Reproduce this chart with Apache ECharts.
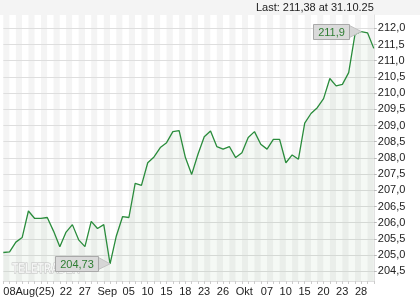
<!DOCTYPE html>
<html><head><meta charset="utf-8">
<script src="https://cdn.jsdelivr.net/npm/echarts@6/dist/echarts.min.js"></script>
<style>html,body{margin:0;padding:0;background:#fff}#c{width:420px;height:300px}</style>
</head><body><div id="c"></div>
<script>
const dates = ['08.08.25','11.08.25','12.08.25','13.08.25','14.08.25','18.08.25','19.08.25','20.08.25','21.08.25','22.08.25',
 '25.08.25','26.08.25','27.08.25','28.08.25','29.08.25','01.09.25','02.09.25','03.09.25','04.09.25','05.09.25',
 '08.09.25','09.09.25','10.09.25','11.09.25','12.09.25','15.09.25','16.09.25','17.09.25','18.09.25','19.09.25',
 '22.09.25','23.09.25','24.09.25','25.09.25','26.09.25','29.09.25','30.09.25','01.10.25','02.10.25','03.10.25',
 '06.10.25','07.10.25','08.10.25','09.10.25','10.10.25','13.10.25','14.10.25','15.10.25','16.10.25','17.10.25',
 '20.10.25','21.10.25','22.10.25','23.10.25','24.10.25','27.10.25','28.10.25','29.10.25','30.10.25','31.10.25'];
const values = [205.08,205.10,205.40,205.54,206.36,206.13,206.13,206.16,205.74,205.26,
 205.71,205.94,205.47,205.26,206.04,205.82,205.94,204.73,205.59,206.19,
 206.16,207.21,207.15,207.85,208.03,208.32,208.47,208.81,208.84,208.01,
 207.49,208.11,208.65,208.83,208.35,208.27,208.35,208.01,208.16,208.63,
 208.81,208.42,208.27,208.57,208.57,207.85,208.09,207.96,209.07,209.37,
 209.55,209.83,210.45,210.22,210.27,210.63,211.81,211.90,211.86,211.38];
const xLabelDates = ['08.08.25','22.08.25','27.08.25','01.09.25','05.09.25','10.09.25','15.09.25','18.09.25','23.09.25',
 '26.09.25','01.10.25','07.10.25','10.10.25','15.10.25','20.10.25','23.10.25','28.10.25'];
const xLabelText = ['08Aug(25)','22','27','Sep','05','10','15','18','23','26','Okt','07','10','15','20','23','28'];
const yTicks = [204.5,205.0,205.5,206.0,206.5,207.0,207.5,208.0,208.5,209.0,209.5,210.0,210.5,211.0,211.5,212.0];

const fmt = (v, d) => v.toFixed(d).replace('.', ',');
const labelMap = {};
xLabelDates.forEach((d, i) => labelMap[d] = xLabelText[i]);

const chart = echarts.init(document.getElementById('c'), null, {renderer: 'canvas'});
const FONT = 'Arial, "Liberation Sans", sans-serif';

chart.setOption({
  animation: false,
  backgroundColor: '#ffffff',
  grid: {left: 3.3, right: 46.2, top: 15, bottom: 19, containLabel: false},
  xAxis: {
    type: 'category', data: dates, boundaryGap: false,
    axisLine: {show: true, lineStyle: {color: '#dddddd'}},
    axisTick: {show: true, interval: 0, length: 3, lineStyle: {color: '#cccccc'}},
    axisLabel: {
      interval: (idx, val) => labelMap[val] !== undefined,
      formatter: (val) => labelMap[val] || '',
      align: 'left', margin: 5, color: '#222', fontSize: 11, fontFamily: FONT, hideOverlap: false
    },
    splitLine: {show: false},
    splitArea: {show: true, interval: 0, areaStyle: {color: ['#f4f4f4', '#ffffff']}}
  },
  yAxis: {
    type: 'value', position: 'right', min: 204.2, max: 212.41, scale: true,
    axisLine: {show: true, lineStyle: {color: '#e2e2e2'}},
    axisTick: {show: true, length: 3, customValues: yTicks, lineStyle: {color: '#bbbbbb'}},
    axisLabel: {customValues: yTicks, formatter: v => fmt(v, 1), margin: 4, color: '#222', fontSize: 11, fontFamily: FONT},
    splitLine: {show: false}
  },
  series: [{
    type: 'line', data: [], z: 1, silent: true,
    markLine: {
      z: 1, silent: true, symbol: ['none', 'none'], animation: false,
      label: {show: false},
      lineStyle: {color: '#dedede', type: 'solid', width: 1},
      emphasis: {disabled: true},
      data: yTicks.map(v => ({yAxis: v}))
    }
  }, {
    type: 'line', data: values, symbol: 'none', smooth: false,
    lineStyle: {color: '#2a8c3c', width: 1.3},
    areaStyle: {color: 'rgba(60,130,60,0.07)', origin: 'start'},
    z: 3
  }]
});

function textWidth(t, font) {
  const c = document.createElement('canvas').getContext('2d');
  c.font = font; return c.measureText(t).width;
}
function callout(idx, text) {
  const p = chart.convertToPixel({seriesIndex: 1}, [idx, values[idx]]);
  const font = '11px ' + FONT;
  const w = Math.round(textWidth(text, font) + 9), h = 15;
  const right = Math.round(p[0] - 12) + 0.5, left = right - w, top = Math.round(p[1] - h / 2) + 0.5;
  return [
    {type: 'polygon', z: 10, shape: {points: [[right, top + 1], [p[0], p[1]], [right, top + h - 2]]}, style: {fill: '#d6d6d6', stroke: '#c2c2c2', lineWidth: 1}},
    {type: 'rect', z: 11, shape: {x: left, y: top, width: w, height: h}, style: {fill: '#dadada', stroke: '#a9a9a9', lineWidth: 1}},
    {type: 'text', z: 12, x: left + w / 2, y: top + h / 2 + 0.5, style: {text: text, fill: '#2e7d32', font: font, align: 'center', verticalAlign: 'middle'}}
  ];
}
let iMax = 0, iMin = 0;
values.forEach((v, i) => { if (v > values[iMax]) iMax = i; if (v < values[iMin]) iMin = i; });
const last = values[values.length - 1];
const gridRight = chart.convertToPixel({seriesIndex: 1}, [values.length - 1, last])[0];

chart.setOption({
  graphic: [
    {type: 'rect', z: -1, silent: true, shape: {x: 0, y: 0, width: 420, height: 15}, style: {fill: '#f4f4f4'}},
    {type: 'text', z: 5, x: gridRight, y: 2, style: {text: 'Last: ' + fmt(last, 2) + ' at ' + dates[dates.length - 1], fill: '#222', font: '11px ' + FONT, align: 'right', verticalAlign: 'top'}},
    {type: 'text', z: 5, x: 12, y: 262, scaleX: 0.72, style: {text: 'TELETRADER', fill: 'rgba(255,255,255,0.7)', stroke: '#c0c0c0', lineWidth: 1, font: 'bold 14px ' + FONT, align: 'left', verticalAlign: 'top'}}
  ].concat(callout(iMax, fmt(values[iMax], 1)), callout(iMin, fmt(values[iMin], 2)))
});
</script>
</body></html>
